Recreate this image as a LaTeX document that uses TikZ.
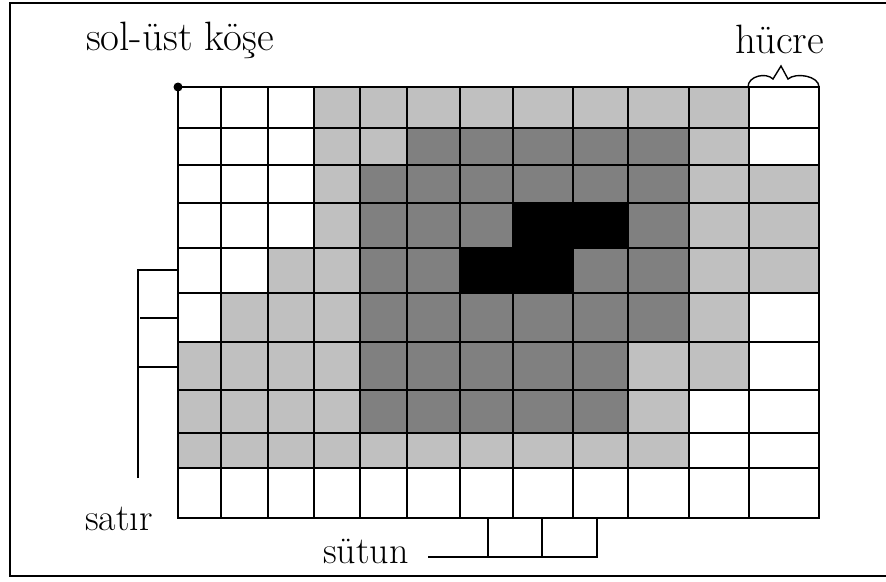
\documentclass[tikz,border=0pt]{standalone}
\usepackage{fontspec}
\definecolor{cW}{HTML}{FFFFFF}
\definecolor{cL}{HTML}{C0C0C0}
\definecolor{cD}{HTML}{808080}
\definecolor{cB}{HTML}{000000}
\begin{document}
\begin{tikzpicture}[x=1pt,y=-1pt,
  gridline/.style={line width=1.8pt, line cap=rect},
  conn/.style={line width=1.5pt},
  lbl/.style={inner sep=0pt, anchor=base west},
  bigtxt/.style={font=\fontsize{41}{48}\selectfont},
  smalltxt/.style={font=\fontsize{38}{44}\selectfont}]
\useasboundingbox (0,0) rectangle (886,581);
\fill[white] (0,0) rectangle (886,581);
\draw[line width=2pt] (10,3) rectangle (905,576);
\def\colx{{178,221,268,314,360,407,460,513,573,628,689,749,819}}
\def\rowy{{87,128,165,203,248,293,342,390,433,468,518}}
% cell fills
\foreach \cells [count=\r from 0] in {
  {W,W,W,L,L,L,L,L,L,L,L,W},
  {W,W,W,L,L,D,D,D,D,D,L,W},
  {W,W,W,L,D,D,D,D,D,D,L,L},
  {W,W,W,L,D,D,D,B,B,D,L,L},
  {W,W,L,L,D,D,B,B,D,D,L,L},
  {W,L,L,L,D,D,D,D,D,D,L,W},
  {L,L,L,L,D,D,D,D,D,L,L,W},
  {L,L,L,L,D,D,D,D,D,L,W,W},
  {L,L,L,L,L,L,L,L,L,L,W,W},
  {W,W,W,W,W,W,W,W,W,W,W,W}} {
  \foreach \k [count=\c from 0] in \cells {
    \pgfmathsetmacro\xa{\colx[\c]}
    \pgfmathsetmacro\xb{\colx[\c+1]}
    \pgfmathsetmacro\ya{\rowy[\r]}
    \pgfmathsetmacro\yb{\rowy[\r+1]}
    \fill[fill=c\k] (\xa,\ya) rectangle (\xb,\yb);
  }
}
% grid lines
\foreach \i in {0,...,12} {
  \pgfmathsetmacro\xa{\colx[\i]}
  \draw[gridline] (\xa,87) -- (\xa,518);
}
\foreach \j in {0,...,10} {
  \pgfmathsetmacro\ya{\rowy[\j]}
  \draw[gridline] (178,\ya) -- (819,\ya);
}
% corner dot
\coordinate (corner) at (178,87);
\fill (corner) circle (4.5);
% labels
\node[lbl, bigtxt] (kose) at (86,50) {sol-üst köşe};
\node[lbl, bigtxt] (hucre) at (735,53) {hücre};
\node[lbl, smalltxt] (satir) at (85,530) {satır};
\node[lbl, smalltxt] (sutun) at (323,563) {sütun};
% cell brace
\coordinate (bl) at (748,87);
\coordinate (br) at (819,87);
\draw[line width=1.4pt] (bl) .. controls (748,76) and (766,72) .. (773,79)
  -- (781,66) -- (788,79) .. controls (796,72) and (819,76) .. (br);
% row bracket
\coordinate (ra) at (138,270);
\coordinate (rb) at (138,478);
\draw[conn] (rb) -- (ra) -- (178,270);
\draw[conn] (140,318) -- (178,318);
\draw[conn] (138,367) -- (178,367);
% column bracket
\coordinate (ca) at (428,557);
\coordinate (cb) at (597,557);
\draw[conn] (ca) -- (cb) -- (597,518);
\draw[conn] (488,557) -- (488,518);
\draw[conn] (542,557) -- (542,518);
\end{tikzpicture}
\end{document}
